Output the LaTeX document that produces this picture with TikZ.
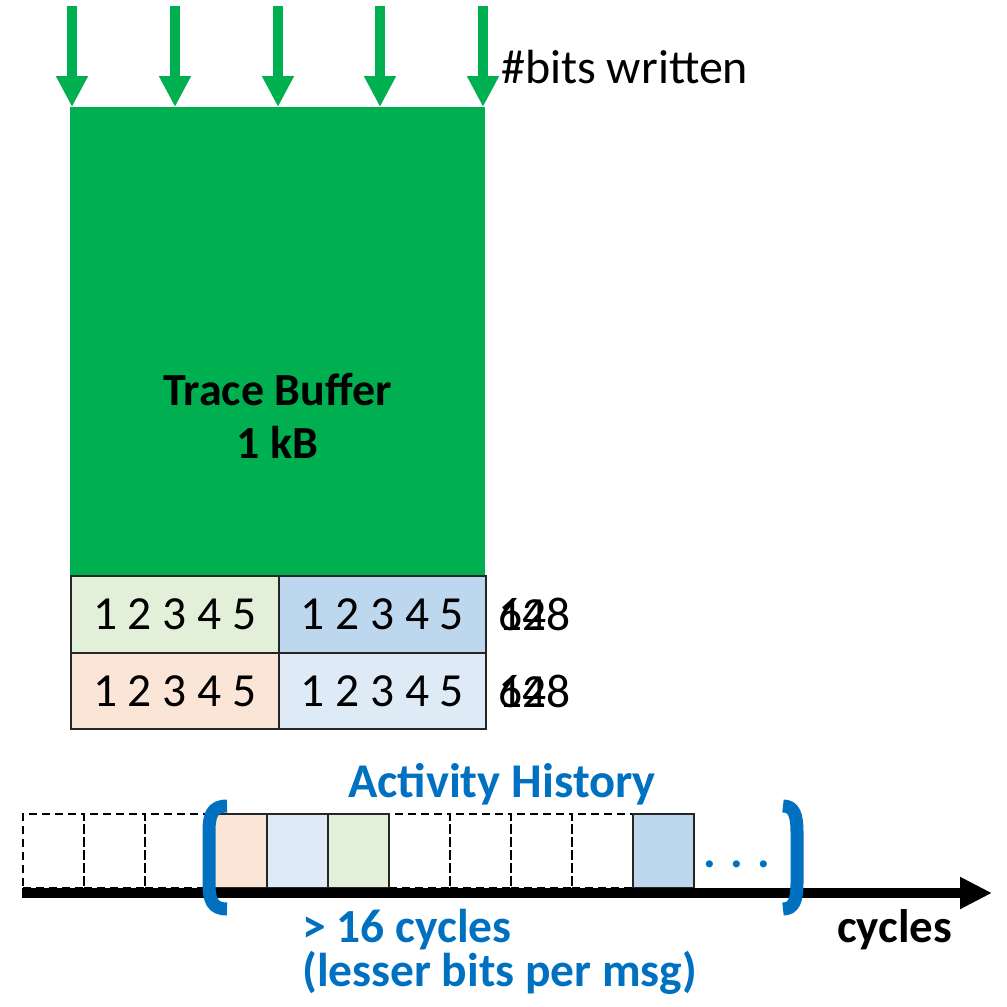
\documentclass[tikz,border=0pt]{standalone}
\usepackage{fontspec}
\setmainfont{Carlito}
\usetikzlibrary{arrows.meta}

\definecolor{bufgreen}{HTML}{00B050}
\definecolor{cellgreen}{HTML}{E2F0D9}
\definecolor{cellblue}{HTML}{BDD7EE}
\definecolor{cellpeach}{HTML}{FBE5D6}
\definecolor{cellpale}{HTML}{DEEBF7}
\definecolor{histblue}{HTML}{0070C0}

\begin{document}
\begin{tikzpicture}[x=1pt,y=-1pt,
  txt/.style={inner sep=0pt, font=\fontsize{47.5}{56}\selectfont},
  boldtxt/.style={txt, font=\fontsize{47.5}{56}\selectfont\bfseries},
  bufbox/.style={fill=bufgreen, draw=none, minimum width=415pt, minimum height=621pt, inner sep=0pt, anchor=north west},
  cellbox/.style={draw=black!85, line width=2pt, minimum width=207.5pt, minimum height=76.5pt, inner sep=0pt, anchor=north west, txt},
  slotbox/.style={minimum width=61pt, minimum height=74pt, inner sep=0pt, anchor=south west},
  emptyslot/.style={slotbox, draw=black, line width=2pt, dash pattern=on 8pt off 5pt},
  fullslot/.style={slotbox, draw=black!85, line width=2pt},
  writearrow/.style={draw=bufgreen, line width=10pt, -{Triangle[length=31pt,width=30pt]}},
  timeaxis/.style={draw=black, line width=10pt, -{Triangle[length=32pt,width=30pt]}},
  bracket/.style={draw=histblue, line width=13pt}
]
\useasboundingbox (0,0) rectangle (1007,1007);

% trace buffer body with its two rows of message slots
\node[bufbox] (buf) at (70,107) {};
\node[font=\fontsize{46}{53}\selectfont\bfseries, align=center, inner sep=0pt] (buflabel) at (277.5,416) {Trace Buffer\\1 kB};

\node[cellbox, fill=cellgreen] (c11) at (70,575) {1 2 3 4 5};
\node[cellbox, fill=cellblue]  (c12) at (277.5,575) {1 2 3 4 5};
\node[cellbox, fill=cellpeach] (c21) at (70,651.5) {1 2 3 4 5};
\node[cellbox, fill=cellpale]  (c22) at (277.5,651.5) {1 2 3 4 5};

% row widths, printed on top of each other
\node[txt, anchor=base west] (w128a) at (498,630) {128};
\node[txt, anchor=base west] (w64a)  at (498,630) {64};
\node[txt, anchor=base west] (w128b) at (498,707) {128};
\node[txt, anchor=base west] (w64b)  at (498,707) {64};

% write ports
\foreach \i/\x in {1/72,2/175,3/278,4/380,5/483} {
  \coordinate (src\i) at (\x,6);
  \draw[writearrow] (src\i) -- (src\i |- buf.north);
}
\node[txt, font=\fontsize{48}{56}\selectfont, anchor=base west] (bitslabel) at (501,83) {\#bits written};

% activity history timeline
\foreach \i in {0,1,2,6,7,8,9} {
  \node[emptyslot] (slot\i) at ({22+61*\i},889) {};
}
\node[fullslot, fill=cellpeach] (slot3) at (205,889) {};
\node[fullslot, fill=cellpale]  (slot4) at (266,889) {};
\node[fullslot, fill=cellgreen] (slot5) at (327,889) {};
\node[fullslot, fill=cellblue]  (slot10) at (632,889) {};

\coordinate (axstart) at (22,893);
\coordinate (axend) at (992,893);
\draw[timeaxis] (axstart) -- (axend);

% window brackets
\draw[bracket] (227,806) .. controls (212,806) and (209,815) .. (209,832)
  -- (209,883) .. controls (209,900) and (212,909) .. (227,909);
\draw[bracket] (783,806) .. controls (794,806) and (797,815) .. (797,832)
  -- (797,883) .. controls (797,900) and (794,909) .. (783,909);

\node[boldtxt, text=histblue, anchor=base] (dots) at (737,867) {. . .};
\node[boldtxt, font=\fontsize{48.5}{56}\selectfont\bfseries, text=histblue, anchor=base] (histtitle) at (502,797) {Activity History};
\node[boldtxt, text=histblue, anchor=base west] (window) at (302,942) {> 16 cycles};
\node[boldtxt, text=histblue, anchor=base west] (windownote) at (302,986) {(lesser bits per msg)};
\node[boldtxt, font=\fontsize{47}{56}\selectfont\bfseries, anchor=base west] (axlabel) at (837,942) {cycles};
\end{tikzpicture}
\end{document}
